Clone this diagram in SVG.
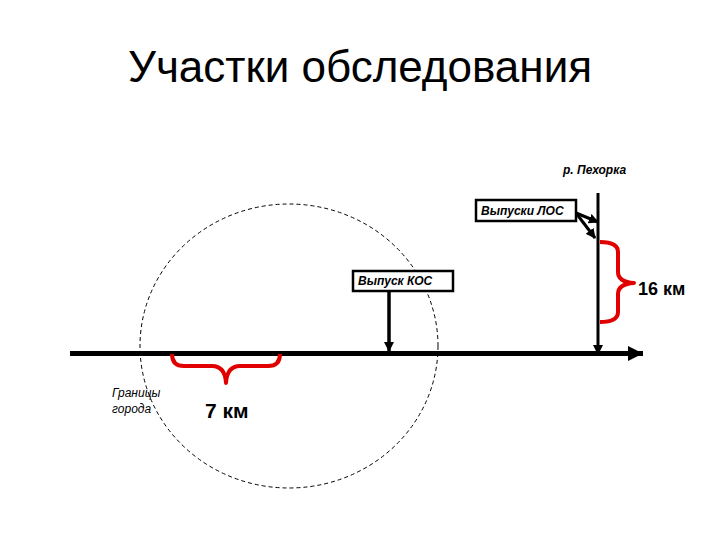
<svg xmlns="http://www.w3.org/2000/svg" width="720" height="540" viewBox="0 0 720 540">
<style>
.t{font-family:"Liberation Sans",Arial,sans-serif;fill:#000}
.lab{font-family:"Liberation Sans",Arial,sans-serif;font-style:italic;font-weight:bold;font-size:12px;fill:#000}
.box{fill:#fff;stroke:#000;stroke-width:2.5}
.brace{fill:none;stroke:#e00000;stroke-width:4;stroke-linejoin:round}
</style>
<defs>
<marker id="ah" markerWidth="10" markerHeight="10" refX="9" refY="5" orient="auto" markerUnits="userSpaceOnUse"><path d="M0,0 L10,5 L0,10 z" fill="#000"/></marker>
<marker id="ahs" markerWidth="15" markerHeight="15" refX="15" refY="7.5" orient="auto" markerUnits="userSpaceOnUse"><path d="M0,0 L15,7.5 L0,15 z" fill="#000"/></marker>
</defs>
<rect width="720" height="540" fill="#fff"/>
<text class="t" x="360" y="82" font-size="44" text-anchor="middle">Участки обследования</text>

<g id="city-boundary">
<ellipse cx="289" cy="346" rx="149" ry="142" fill="none" stroke="#000" stroke-width="1" stroke-dasharray="4,3"/>
<text class="t" x="112" y="397" font-size="12" font-style="italic">Границы</text>
<text class="t" x="112" y="413" font-size="12" font-style="italic">города</text>
</g>

<g id="connectors">
<line x1="70" y1="353.5" x2="643" y2="353.5" stroke="#000" stroke-width="5" marker-end="url(#ahs)"/>
<line x1="598" y1="193" x2="598" y2="354" stroke="#000" stroke-width="3" marker-end="url(#ah)"/>
<line x1="389" y1="291" x2="389" y2="351" stroke="#000" stroke-width="3.5" marker-end="url(#ah)"/>
<line x1="576" y1="213" x2="598" y2="222" stroke="#000" stroke-width="3" marker-end="url(#ah)"/>
<line x1="576" y1="213" x2="595" y2="238" stroke="#000" stroke-width="3" marker-end="url(#ah)"/>
</g>

<g id="river">
<text class="lab" x="563" y="174">р. Пехорка</text>
</g>

<g id="los">
<rect class="box" x="476" y="200" width="100" height="21"/>
<text class="lab" x="481" y="215">Выпуски ЛОС</text>
</g>

<g id="kos">
<rect class="box" x="353" y="271" width="100" height="20"/>
<text class="lab" x="358" y="285">Выпуск КОС</text>
</g>

<g id="brace-16">
<path class="brace" d="M600,242 Q618,242 618,252 L618,272 Q618,282 634,283 Q618,284 618,294 L618,312 Q618,322 600,322"/>
<text class="t" x="638" y="295" font-size="18" font-weight="bold">16 км</text>
</g>

<g id="brace-7">
<path class="brace" d="M172,354 Q172,366 184,366 L212,366 Q225,366 226,383 Q227,366 240,366 L268,366 Q280,366 280,354"/>
<text class="t" x="205" y="418" font-size="21" font-weight="bold">7 км</text>
</g>
</svg>
